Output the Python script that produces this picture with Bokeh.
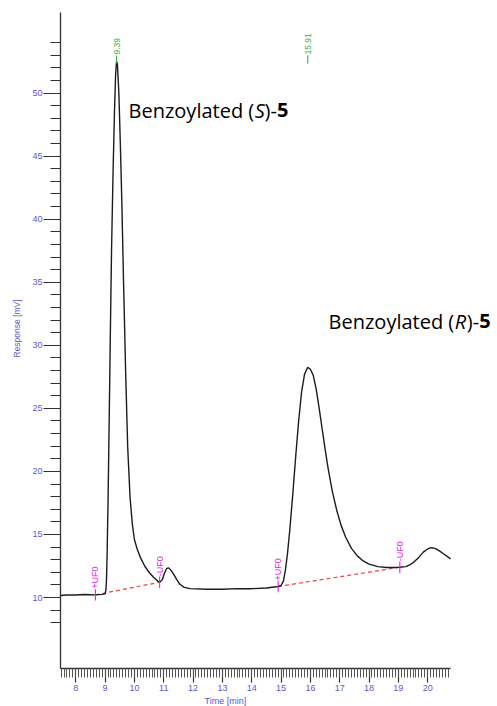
import math

from bokeh.embed import file_html
from bokeh.models import FixedTicker, Label, Range1d, Title
from bokeh.plotting import figure
from bokeh.resources import INLINE

# Detector trace (time in min, response in mV)
time_min = [
    7.48, 7.70, 8.00, 8.30, 8.67, 8.90, 9.00, 9.03, 9.05, 9.07, 9.10, 9.14,
    9.18, 9.22, 9.27, 9.32, 9.36, 9.39, 9.42, 9.47, 9.52, 9.57, 9.63, 9.70,
    9.77, 9.85, 9.93, 10.00, 10.10, 10.20, 10.35, 10.50, 10.65, 10.80, 10.86,
    10.95, 11.02, 11.10, 11.17, 11.25, 11.35, 11.45, 11.55, 11.70, 11.90,
    12.50, 13.00, 13.50, 14.00, 14.50, 14.90, 15.00, 15.08, 15.15, 15.22,
    15.30, 15.40, 15.50, 15.60, 15.70, 15.80, 15.91, 16.00, 16.10, 16.20,
    16.30, 16.40, 16.50, 16.60, 16.75, 16.90, 17.05, 17.20, 17.40, 17.60,
    17.80, 18.00, 18.30, 18.60, 18.90, 19.05, 19.25, 19.40, 19.55, 19.70,
    19.85, 20.00, 20.12, 20.25, 20.40, 20.55, 20.70, 20.78,
]
response_mv = [
    10.16, 10.20, 10.20, 10.24, 10.21, 10.25, 10.30, 10.60, 11.50, 13.50,
    17.50, 24.00, 31.00, 37.50, 43.50, 48.50, 51.50, 52.50, 52.30, 50.00,
    46.00, 41.50, 35.00, 28.00, 22.00, 18.00, 15.80, 14.60, 13.80, 13.20,
    12.50, 12.00, 11.60, 11.30, 11.21, 11.40, 11.90, 12.30, 12.35, 12.15,
    11.80, 11.40, 11.05, 10.80, 10.70, 10.65, 10.65, 10.70, 10.70, 10.75,
    10.87, 10.95, 11.30, 12.20, 13.50, 15.40, 18.20, 21.20, 24.00, 26.30,
    27.70, 28.25, 28.10, 27.60, 26.50, 25.00, 23.40, 21.80, 20.30, 18.40,
    16.90, 15.70, 14.80, 13.90, 13.30, 12.90, 12.65, 12.45, 12.38, 12.38,
    12.40, 12.45, 12.60, 12.85, 13.20, 13.60, 13.85, 13.95, 13.90, 13.70,
    13.45, 13.20, 13.05,
]

# Retention times written above the peaks
peak_times = [9.39, 15.91]
peak_texts = ["9.39", "15.91"]

# Integration markers and the baselines drawn between them
uf_times = [8.67, 10.86, 14.90, 19.05]
uf_levels = [10.21, 11.21, 10.87, 12.40]
uf_texts = ["+UF0", "-UF0", "+UF0", "-UF0"]

y_major = [10, 15, 20, 25, 30, 35, 40, 45, 50]
y_minor = list(range(8, 55))
x_major = list(range(8, 21))
x_minor = [round(7.5 + 0.1 * i, 1) for i in range(133)]

AXIS_BLUE = "#6357d4"
MAGENTA = "#e41fe4"
GREEN = "#3daa3d"

X_START, X_END = 7.48, 20.78
Y_START, Y_END = 4.37, 56.39

p = figure(
    width=497, height=706,
    x_range=Range1d(X_START, 22.38), y_range=Range1d(Y_START, Y_END),
    output_backend="svg", toolbar_location=None,
    min_border_left=60, min_border_right=0,
    min_border_top=12, min_border_bottom=38,
)
p.outline_line_color = None
p.xgrid.visible = False
p.ygrid.visible = False
p.background_fill_color = "white"
p.border_fill_color = "white"

# y axis
ya = p.yaxis[0]
ya.ticker = FixedTicker(ticks=y_major, minor_ticks=y_minor)
ya.major_tick_out = 17
ya.major_tick_in = 0
ya.minor_tick_out = 10
ya.minor_tick_in = 0
ya.axis_line_color = "#333333"
ya.axis_line_width = 1.3
ya.major_tick_line_color = "#333333"
ya.minor_tick_line_color = "#333333"
ya.major_tick_line_width = 1.2
ya.minor_tick_line_width = 1.2
ya.major_label_standoff = 1
ya.major_label_text_font = "Liberation Sans"
ya.major_label_text_font_size = "9px"
ya.major_label_text_color = AXIS_BLUE

# x axis, drawn only over the recorded time span
xa = p.xaxis[0]
xa.bounds = (X_START, X_END)
xa.ticker = FixedTicker(ticks=x_major, minor_ticks=x_minor)
xa.major_tick_out = 14
xa.major_tick_in = 0
xa.minor_tick_out = 9
xa.minor_tick_in = 0
xa.axis_line_color = "#333333"
xa.axis_line_width = 1.3
xa.major_tick_line_color = "#333333"
xa.minor_tick_line_color = "#555555"
xa.major_tick_line_width = 1.2
xa.minor_tick_line_width = 1.0
xa.major_label_standoff = 2
xa.major_label_text_font = "Liberation Sans"
xa.major_label_text_font_size = "9px"
xa.major_label_text_color = AXIS_BLUE

# axis titles
p.add_layout(Title(text="Time [min]", align="left", offset=144, standoff=0,
                   text_font="Liberation Sans", text_font_size="9px",
                   text_font_style="normal", text_color=AXIS_BLUE), "below")
p.add_layout(Title(text="Response [mV]", align="left", offset=311,
                   standoff=16, text_font="Liberation Sans",
                   text_font_size="8.5px", text_font_style="normal",
                   text_color=AXIS_BLUE), "left")

# integration baselines
p.segment(x0=uf_times[0::2], y0=uf_levels[0::2],
          x1=uf_times[1::2], y1=uf_levels[1::2],
          line_color="#e8454f", line_width=1.2, line_dash="4 3")

# trace
p.line(time_min, response_mv, line_color="#1c1c1c", line_width=1.4)

# marker ticks and labels
p.segment(x0=uf_times, y0=[v - 0.45 for v in uf_levels],
          x1=uf_times, y1=[v + 0.45 for v in uf_levels],
          line_color=MAGENTA, line_width=1.1)
for t, v, s in zip(uf_times, uf_levels, uf_texts):
    p.add_layout(Label(x=t, y=v, y_offset=6, text=s, angle=math.pi / 2,
                       text_align="left", text_baseline="middle",
                       text_font="Liberation Sans", text_font_size="9px",
                       text_color=MAGENTA))

# retention time labels
rt_low, rt_high = 52.35, 52.98
p.segment(x0=peak_times, y0=[rt_low] * 2, x1=peak_times, y1=[rt_high] * 2,
          line_color=GREEN, line_width=1.1)
for t, s in zip(peak_times, peak_texts):
    p.add_layout(Label(x=t, y=rt_high, y_offset=1, text=s, angle=math.pi / 2,
                       text_align="left", text_baseline="middle",
                       text_font="Liberation Sans", text_font_size="8.5px",
                       text_color=GREEN))

# compound names: plain / italic / plain / bold pieces
def compound(x, y, letter, widths):
    pieces = [("Benzoylated (", "normal"), (letter, "italic"),
              (")-", "normal"), ("5", "bold")]
    off = 0.0
    for (txt, style), w in zip(pieces, widths):
        p.add_layout(Label(x=x, y=y, x_offset=off, text=txt,
                           text_font="Open Sans", text_font_size="20px",
                           text_font_style=style, text_color="black",
                           text_align="left", text_baseline="alphabetic"))
        off += w

compound(9.80, 48.62, "S", [126.2, 9.8, 12.4, 0])
compound(16.62, 31.89, "R", [126.2, 12.0, 12.4, 0])

open("out.html", "w").write(file_html(p, INLINE))
